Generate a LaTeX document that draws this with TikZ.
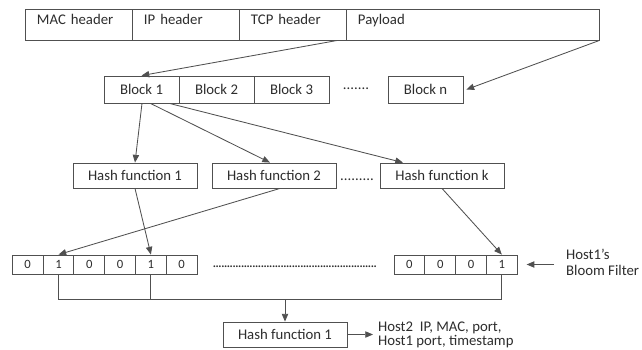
\documentclass[tikz,border=0pt]{standalone}
\usepackage{fontspec}
\setmainfont{Carlito}
\usepackage{tikz}
\usetikzlibrary{arrows.meta, positioning, calc}

\definecolor{linec}{RGB}{80,80,80}
\definecolor{textc}{RGB}{45,45,45}
\newcommand{\dotrow}[1]{\makebox[#1]{\xleaders\hbox to 0.07cm{\hss.\hss}\hfill}}

\begin{document}
\begin{tikzpicture}[
    x=0.025cm, y=-0.025cm,
    font=\fontsize{10.5}{12}\selectfont, text=textc, line width=0.6pt,
    field/.style={draw=linec, text width=#1, align=left, inner xsep=0.3cm, inner ysep=0pt, text height=0.375cm, text depth=0.4cm},
    block/.style={draw=linec, minimum width=1.875cm, minimum height=0.675cm, inner sep=0pt},
    hashbox/.style={draw=linec, minimum width=3.1cm, minimum height=0.625cm, inner sep=0pt},
    bit/.style={draw=linec, minimum width=0.77cm, minimum height=0.475cm, inner sep=0pt, font=\fontsize{9}{10}\selectfont},
    arr/.style={-{Triangle[length=5.5pt, width=4.5pt]}, draw=linec},
    wire/.style={draw=linec}
]
\useasboundingbox (0,0) rectangle (642,349);

% Packet
\node[field=2.075cm] (mac) at (78.5,24.5) {MAC header};
\node[field=2.075cm] (ip) at (185.5,24.5) {IP header};
\node[field=2.075cm] (tcp) at (292.5,24.5) {TCP header};
\node[field=5.725cm] (pay) at (472.5,24.5) {Payload};

% Payload blocks
\node[block] (b1) at (141.5,89.5) {Block 1};
\node[block] (b2) at (216.5,89.5) {Block 2};
\node[block] (b3) at (291.5,89.5) {Block 3};
\node (bdots) at (356,89) {.......};
\node[block] (bn) at (425.5,89.5) {Block n};

\draw[arr] ($(tcp.south east)+(-9,0)$) -- (b1.north);
\draw[arr] (pay.south east) -- ($(bn.east)+(3,0)$);

% Hash functions
\node[hashbox] (h1) at (135,175.5) {Hash function 1};
\node[hashbox] (h2) at (274,175.5) {Hash function 2};
\node (hdots) at (357,180) {.........};
\node[hashbox] (hk) at (442,175.5) {Hash function k};

\draw[arr] ($(b1.south)+(0.5,0)$) -- (h1.north);
\draw[arr] ($(b1.south)+(9,0)$) -- ($(h2.north)+(-4,0)$);
\draw[arr] ($(b1.south)+(28,0)$) -- ($(hk.north)+(-39,0)$);

% Bloom filter
\foreach \v [count=\i] in {0,1,0,0,1,0}
    \node[bit] (a\i) at (-3.1+30.8*\i,264.5) {\v};
\node (bitdots) at (295,267) {\dotrow{4.1cm}};
\foreach \v [count=\i] in {0,0,0,1}
    \node[bit] (c\i) at (378.6+30.8*\i,264.5) {\v};

\draw[arr] (h1.south) -- (a5.north);
\draw[arr] ($(h2.south)+(6,0)$) -- (a2.north);
\draw[arr] (hk.south) -- (c4.north);

\node[anchor=west, align=left, font=\fontsize{10.5}{11.5}\selectfont] (bloom) at (561,262) {Host1’s\\Bloom Filter};
\draw[arr, shorten <=0.175cm, shorten >=0.225cm] (bloom.west |- c4) -- (c4.east);

% Collect bits
\coordinate (join) at (285,299);
\draw[wire] (a2.south) -- (a2.south |- join) -- (c4.south |- join) -- (c4.south);
\draw[wire] (a5.south) -- (a5.south |- join);

\node[hashbox] (hf) at (285,334.5) {Hash function 1};
\draw[arr] (join) -- (hf.north);

\node[anchor=west, align=left, font=\fontsize{10.5}{10}\selectfont] (out) at (373,334.5) {Host2\ \ IP, MAC, port,\\Host1 port, timestamp};
\draw[arr] (hf.east) -- (out.west);

\end{tikzpicture}
\end{document}
